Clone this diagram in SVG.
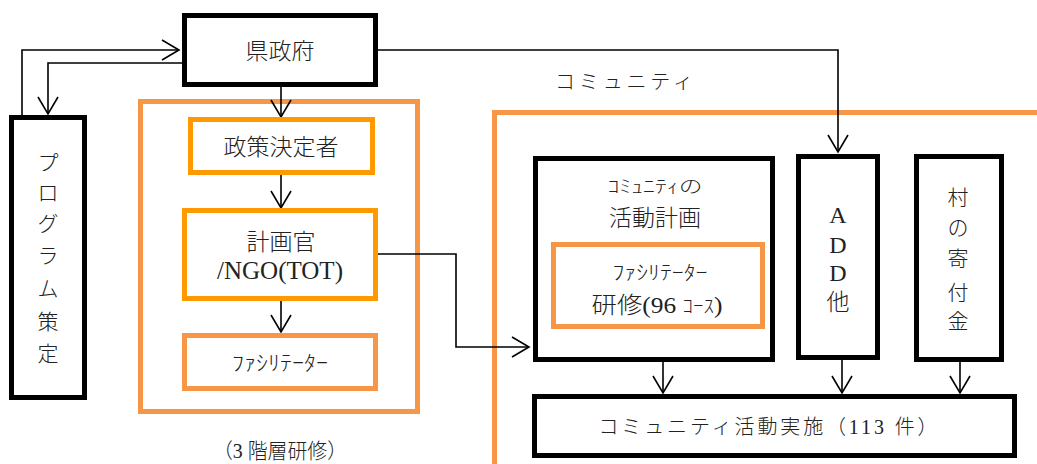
<svg xmlns="http://www.w3.org/2000/svg" width="1037" height="464" viewBox="0 0 1037 464">
<style>
.bk{fill:#fff;stroke:#000;stroke-width:5}
.or{fill:none;stroke:#F79646;stroke-width:5}
.ob{fill:#fff;stroke:#FF9900;stroke-width:5}
.cn{fill:none;stroke:#000;stroke-width:1.6}
text{font-family:"Liberation Serif","Times New Roman","DejaVu Serif","Noto Sans CJK JP",serif;fill:#222;text-anchor:middle;font-weight:300}
.t23{font-size:23px}
.t21{font-size:21px}
.t20{font-size:20px}
.lat{font-family:"Liberation Serif","Times New Roman",serif;font-weight:400}
</style>
<defs>
<marker id="ah" viewBox="-1 -11 20 22" refX="17" refY="0" markerWidth="20" markerHeight="22" markerUnits="userSpaceOnUse" orient="auto">
<path d="M0,-10 L17,0 L0,10" fill="none" stroke="#000" stroke-width="1.6"/>
</marker>
</defs>
<g id="training-frame">
<rect class="or" x="140.5" y="101.5" width="277" height="310"/>
<text x="280" y="458" style="font-size:21px" textLength="134" lengthAdjust="spacingAndGlyphs">（3 階層研修）</text>
</g>
<g id="community-frame">
<path class="or" d="M1040,112.5 H494.5 V470"/>
<text class="t20" x="624" y="89" textLength="138" lengthAdjust="spacing">コミュニティ</text>
</g>
<g id="connectors">
<polyline class="cn" points="22,116 22,50 179,50" marker-end="url(#ah)"/>
<polyline class="cn" points="183,63 48,63 48,114" marker-end="url(#ah)"/>
<line class="cn" x1="281" y1="87" x2="281" y2="117" marker-end="url(#ah)"/>
<line class="cn" x1="281" y1="175" x2="281" y2="208" marker-end="url(#ah)"/>
<line class="cn" x1="281" y1="301" x2="281" y2="332" marker-end="url(#ah)"/>
<polyline class="cn" points="378,254 456,254 456,347 529,347" marker-end="url(#ah)"/>
<polyline class="cn" points="378,50 838,50 838,152" marker-end="url(#ah)"/>
<line class="cn" x1="663" y1="362" x2="663" y2="393" marker-end="url(#ah)"/>
<line class="cn" x1="842" y1="360" x2="842" y2="393" marker-end="url(#ah)"/>
<line class="cn" x1="960" y1="362" x2="960" y2="393" marker-end="url(#ah)"/>
</g>
<g id="kenseifu">
<rect class="bk" x="184.5" y="15.5" width="191" height="69"/>
<text class="t23" x="280" y="59">県政府</text>
</g>
<g id="program">
<rect class="bk" x="11.5" y="117.5" width="73" height="280"/>
<text class="t21" x="48" y="170">プ</text>
<text class="t21" x="48" y="200">ロ</text>
<text class="t21" x="48" y="231">グ</text>
<text class="t21" x="48" y="263">ラ</text>
<text class="t21" x="48" y="296">ム</text>
<text class="t21" x="48" y="329">策</text>
<text class="t21" x="48" y="361">定</text>
</g>
<g id="policy">
<rect class="ob" x="190.5" y="119.5" width="182" height="53"/>
<text class="t23" x="281" y="155">政策決定者</text>
</g>
<g id="planner">
<rect class="ob" x="184.5" y="210.5" width="191" height="88"/>
<text class="t23" x="281" y="250">計画官</text>
<text class="lat" x="280" y="279" style="font-size:25px">/NGO(TOT)</text>
</g>
<g id="facilitator">
<rect class="or" x="184.5" y="335.5" width="191" height="53"/>
<text x="280" y="370" style="font-size:21px" textLength="96" lengthAdjust="spacingAndGlyphs">ﾌｧｼﾘﾃｰﾀｰ</text>
</g>
<g id="community-plan">
<rect class="bk" x="535.5" y="158.5" width="237" height="201"/>
<text x="655" y="193" style="font-size:18px" textLength="95" lengthAdjust="spacingAndGlyphs">ｺﾐｭﾆﾃｨの</text>
<text class="t23" x="655" y="226">活動計画</text>
</g>
<g id="facilitator-training">
<rect class="or" x="553.5" y="244.5" width="209" height="82"/>
<text x="660" y="280" style="font-size:20px" textLength="95" lengthAdjust="spacingAndGlyphs">ﾌｧｼﾘﾃｰﾀｰ</text>
<text x="657" y="313" style="font-size:23px" textLength="131" lengthAdjust="spacingAndGlyphs">研修<tspan class="lat">(96 </tspan><tspan style="font-size:19px">ｺｰｽ</tspan><tspan class="lat">)</tspan></text>
</g>
<g id="add">
<rect class="bk" x="798.5" y="156.5" width="79" height="201"/>
<text class="lat" x="838" y="223" style="font-size:24px">A</text>
<text class="lat" x="838" y="253" style="font-size:24px">D</text>
<text class="lat" x="838" y="281" style="font-size:24px">D</text>
<text class="t23" x="838" y="310">他</text>
</g>
<g id="village">
<rect class="bk" x="916.5" y="156.5" width="85" height="203"/>
<text class="t21" x="958" y="205">村</text>
<text class="t21" x="958" y="235">の</text>
<text class="t21" x="958" y="266">寄</text>
<text class="t21" x="958" y="300">付</text>
<text class="t21" x="958" y="328">金</text>
</g>
<g id="implementation">
<rect class="bk" x="534.5" y="396.5" width="480" height="59"/>
<text x="768" y="434" style="font-size:20px" textLength="339" lengthAdjust="spacing">コミュニティ活動実施（<tspan class="lat">113 </tspan>件）</text>
</g>
</svg>
